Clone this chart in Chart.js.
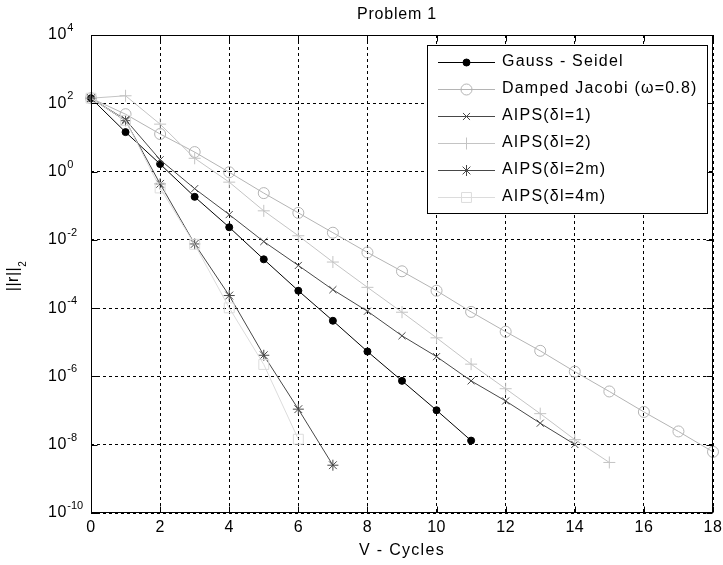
<!DOCTYPE html>
<html><head><meta charset="utf-8">
<script src="https://cdn.jsdelivr.net/npm/chart.js@4.4.0/dist/chart.umd.min.js"></script>
<style>html,body{margin:0;padding:0;background:#fff}#wrap{width:723px;height:565px}</style>
</head><body><div id="wrap"><canvas id="c" width="723" height="565"></canvas></div>
<script>
// ---- data ----
const cycles = [0,1,2,3,4,5,6,7,8,9,10,11,12,13,14,15,16,17,18];
const gaussSeidel = [141, 14.3, 1.66, 0.182, 0.0234, 2.69e-3, 3.24e-4, 4.27e-5, 5.37e-6, 7.41e-7, 1.02e-7, 1.32e-8];
const dampedJacobi = [141, 47.9, 12.6, 3.72, 0.955, 0.234, 0.0617, 0.0162, 4.27e-3, 1.20e-3, 3.24e-4, 7.76e-5, 2.04e-5, 5.62e-6, 1.38e-6, 3.63e-7, 9.12e-8, 2.45e-8, 6.17e-9];
const aips1 = [141, 33.1, 2.21, 0.316, 0.0550, 8.91e-3, 1.78e-3, 3.47e-4, 8.13e-5, 1.55e-5, 3.80e-6, 7.41e-7, 1.91e-7, 4.27e-8, 1.02e-8];
const aips2 = [141, 166, 24.5, 2.45, 0.490, 0.0708, 0.0132, 2.24e-3, 4.07e-4, 7.59e-5, 1.35e-5, 2.29e-6, 4.37e-7, 8.13e-8, 1.41e-8, 3.02e-9];
const aips2m = [141, 30.9, 0.437, 7.59e-3, 2.34e-4, 4.17e-6, 1.10e-7, 2.51e-9];
const aips4m = [141, 31.6, 0.331, 7.41e-3, 1.02e-4, 2.24e-6, 1.45e-8];
const seriesNames = ['Gauss - Seidel', 'Damped Jacobi (\u03C9=0.8)', 'AIPS(\u03B4l=1)', 'AIPS(\u03B4l=2)', 'AIPS(\u03B4l=2m)', 'AIPS(\u03B4l=4m)'];
const xTickValues = [0,2,4,6,8,10,12,14,16,18];
const yTickValues = [1e-10,1e-8,1e-6,1e-4,1e-2,1e0,1e2,1e4];
const yTickExponents = ['-10','-8','-6','-4','-2','0','2','4'];
const titleText = 'Problem 1';
const xTitle = 'V - Cycles';
const yTitleMain = '||r||';
const yTitleSub = '2';

// ---- styles ----
const FONT = '"Liberation Sans", Arial, sans-serif';
const styles = [
  {color:'#000000', fill:'#000000', pointStyle:'circle', radius:3.5},
  {color:'#b4b4b4', fill:'rgba(0,0,0,0)', pointStyle:'circle', radius:5.5},
  {color:'#484848', fill:'rgba(0,0,0,0)', pointStyle:'crossRot', radius:5},
  {color:'#c4c4c4', fill:'rgba(0,0,0,0)', pointStyle:'cross', radius:6},
  {color:'#484848', fill:'rgba(0,0,0,0)', pointStyle:'star', radius:5.5},
  {color:'#dcdcdc', fill:'rgba(0,0,0,0)', pointStyle:'rect', radius:7}
];
const seriesValues = [gaussSeidel, dampedJacobi, aips1, aips2, aips2m, aips4m];

const datasets = seriesValues.map((vals, i) => ({
  label: seriesNames[i],
  data: vals.map((v, k) => ({x: cycles[k], y: v})),
  borderColor: styles[i].color,
  backgroundColor: styles[i].fill,
  pointBorderColor: styles[i].color,
  pointBackgroundColor: styles[i].fill,
  pointStyle: styles[i].pointStyle,
  pointRadius: styles[i].radius,
  pointHoverRadius: styles[i].radius,
  pointBorderWidth: 1,
  borderWidth: 1,
  tension: 0,
  fill: false,
  clip: false,
  order: 10 - i
}));

function spaced(ctx, s) { try { ctx.letterSpacing = s + 'px'; } catch(e) {} }

const decor = {
  id: 'decor',
  afterDraw(chart) {
    const ctx = chart.ctx, ca = chart.chartArea;
    const xs = chart.scales.x, ys = chart.scales.y;
    const L = Math.round(ca.left) + 0.5, R = Math.round(ca.right) - 0.5;
    const T = Math.round(ca.top) + 0.5, B = Math.round(ca.bottom) - 0.5;
    ctx.save();
    // frame
    ctx.strokeStyle = '#000'; ctx.lineWidth = 1; ctx.setLineDash([]);
    ctx.strokeRect(L, T, R - L, B - T);
    // inner tick marks
    ctx.beginPath();
    xTickValues.forEach(v => {
      const px = Math.round(xs.getPixelForValue(v)) + 0.5;
      ctx.moveTo(px, B); ctx.lineTo(px, B - 6);
      ctx.moveTo(px, T); ctx.lineTo(px, T + 6);
    });
    yTickValues.forEach(v => {
      const py = Math.round(ys.getPixelForValue(v)) + 0.5;
      ctx.moveTo(L, py); ctx.lineTo(L + 6, py);
      ctx.moveTo(R, py); ctx.lineTo(R - 6, py);
    });
    ctx.stroke();
    ctx.fillStyle = '#000';
    // x tick labels
    ctx.font = '16px ' + FONT; spaced(ctx, 0.5);
    ctx.textAlign = 'center'; ctx.textBaseline = 'middle';
    xTickValues.forEach(v => ctx.fillText(String(v), xs.getPixelForValue(v), ca.bottom + 15));
    // y tick labels 10^n
    ctx.textAlign = 'left';
    yTickValues.forEach((v, i) => {
      const py = ys.getPixelForValue(v);
      ctx.font = '16px ' + FONT; spaced(ctx, 0.5);
      ctx.fillText('10', 48, py);
      const w = ctx.measureText('10').width;
      ctx.font = '11px ' + FONT; spaced(ctx, 0);
      ctx.fillText(yTickExponents[i], 48 + w + 0.5, py - 7);
    });
    // title
    ctx.textAlign = 'center';
    ctx.font = '16px ' + FONT; spaced(ctx, 0.8);
    ctx.fillText(titleText, (ca.left + ca.right) / 2 - 5, 15);
    // x title
    ctx.font = '16px ' + FONT; spaced(ctx, 1.3);
    ctx.fillText(xTitle, (ca.left + ca.right) / 2, 551);
    // y title
    ctx.save();
    ctx.translate(18, 276);
    ctx.rotate(-Math.PI / 2);
    ctx.textAlign = 'left'; ctx.textBaseline = 'alphabetic';
    ctx.font = '16px ' + FONT; spaced(ctx, 0.5);
    const w1 = ctx.measureText(yTitleMain).width;
    ctx.font = '10px ' + FONT;
    const w2 = ctx.measureText(yTitleSub).width;
    ctx.font = '16px ' + FONT;
    ctx.fillText(yTitleMain, -(w1 + w2) / 2, 0);
    ctx.font = '10px ' + FONT;
    ctx.fillText(yTitleSub, -(w1 + w2) / 2 + w1, 8);
    ctx.restore();
    // legend
    const lx = 427.5, ly = 45.5, lw = 280, lh = 168;
    ctx.fillStyle = '#fff'; ctx.fillRect(lx, ly, lw, lh);
    ctx.strokeStyle = '#000'; ctx.strokeRect(lx, ly, lw, lh);
    ctx.textAlign = 'left'; ctx.textBaseline = 'middle';
    ctx.font = '16px ' + FONT; spaced(ctx, 1.2);
    seriesNames.forEach((name, i) => {
      const y = 62 + i * 27;
      const st = styles[i];
      ctx.strokeStyle = st.color; ctx.lineWidth = 1;
      ctx.beginPath(); ctx.moveTo(438, y + 0.5); ctx.lineTo(495, y + 0.5); ctx.stroke();
      ctx.fillStyle = st.fill;
      Chart.helpers.drawPoint(ctx, {pointStyle: st.pointStyle, radius: st.radius, rotation: 0, borderWidth: 1}, 466.5, y + 0.5);
      ctx.fillStyle = '#000';
      ctx.fillText(name, 502, y);
    });
    ctx.restore();
  }
};

new Chart(document.getElementById('c'), {
  type: 'line',
  data: { datasets },
  options: {
    responsive: false,
    animation: false,
    devicePixelRatio: 1,
    layout: { padding: { top: 35, right: 10, left: 0, bottom: 0 } },
    plugins: { legend: { display: false }, title: { display: false }, tooltip: { enabled: false } },
    scales: {
      x: {
        type: 'linear', min: 0, max: 18,
        ticks: { display: false, stepSize: 2 },
        afterBuildTicks: s => { s.ticks = xTickValues.map(v => ({value: v})); },
        grid: { color: '#000', lineWidth: 1, drawTicks: false },
        border: { display: false, dash: [3, 3] },
        afterFit: s => { s.height = 52; }
      },
      y: {
        type: 'logarithmic', min: 1e-10, max: 1e4,
        ticks: { display: false },
        afterBuildTicks: s => { s.ticks = yTickValues.map(v => ({value: v})); },
        grid: { color: '#000', lineWidth: 1, drawTicks: false },
        border: { display: false, dash: [3, 3] },
        afterFit: s => { s.width = 91; }
      }
    }
  },
  plugins: [decor]
});
</script>
</body></html>
